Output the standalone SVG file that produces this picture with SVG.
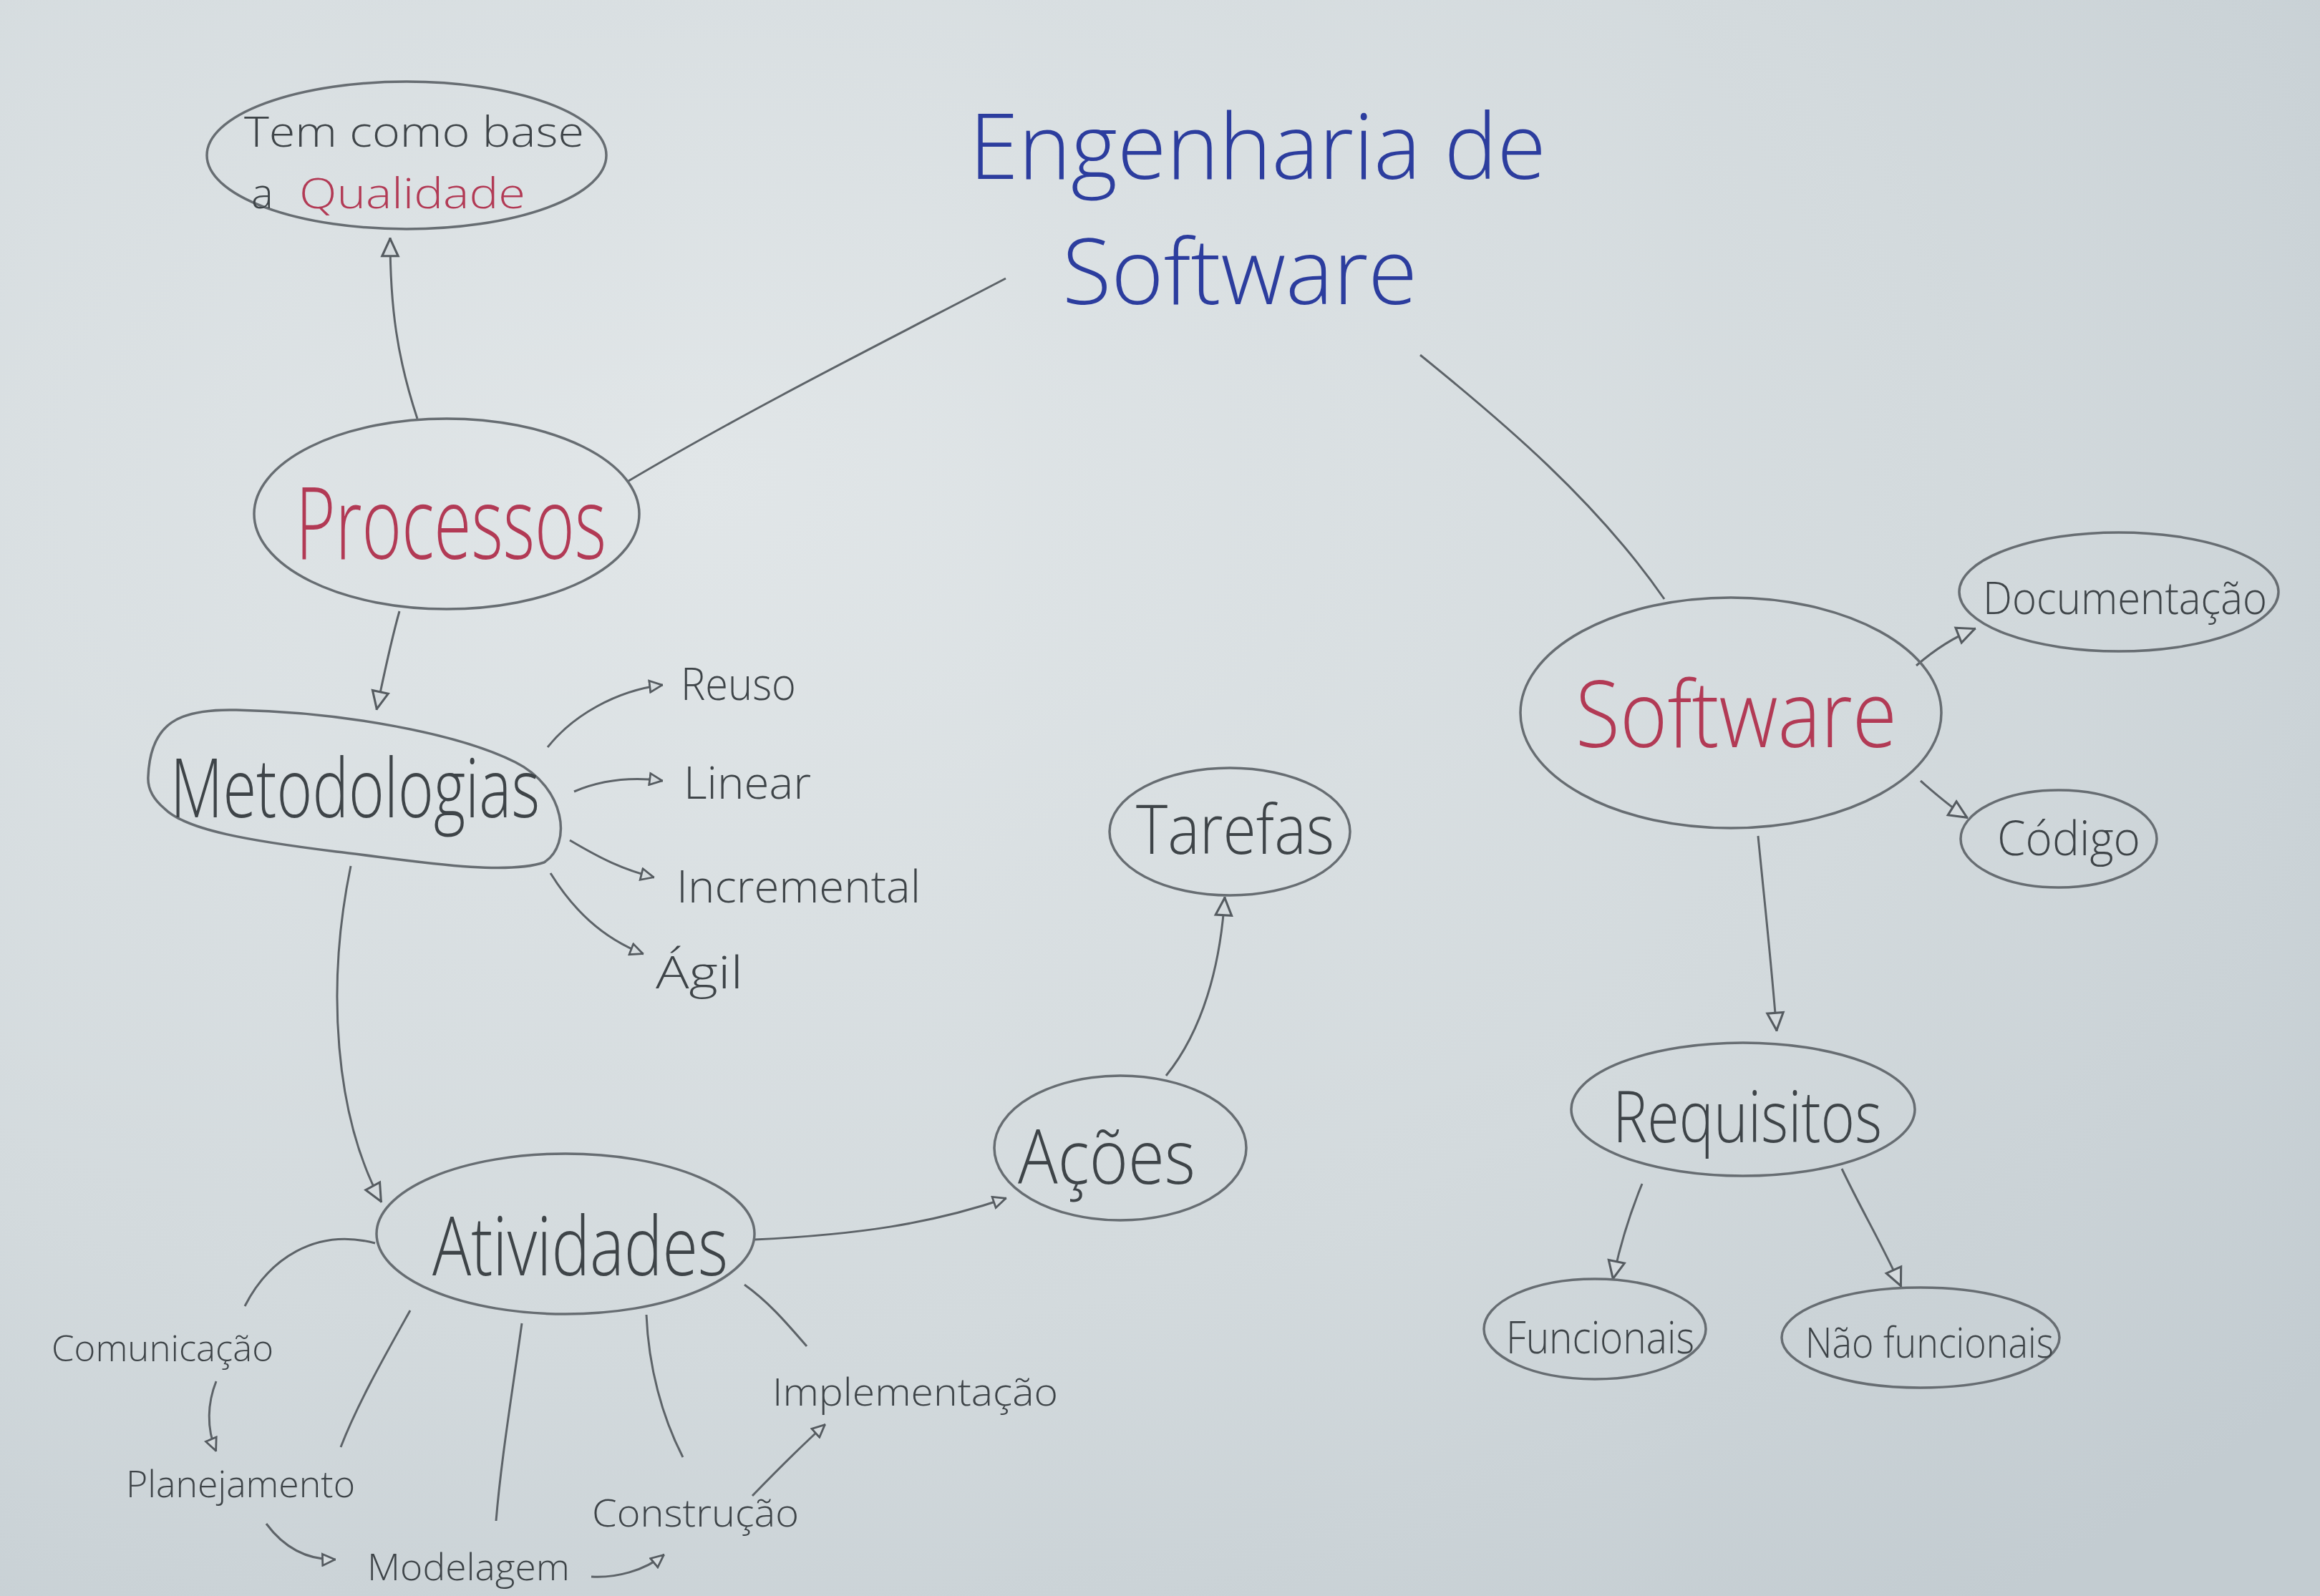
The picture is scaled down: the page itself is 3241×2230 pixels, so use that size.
<svg xmlns="http://www.w3.org/2000/svg" width="3241" height="2230" viewBox="0 0 3241 2230">
<defs>
<radialGradient id="bg" cx="0.3" cy="0.3" r="0.9">
<stop offset="0" stop-color="#e1e6e8"/>
<stop offset="0.6" stop-color="#d3dadd"/>
<stop offset="1" stop-color="#c3ccd1"/>
</radialGradient>
<marker id="ah" viewBox="0 0 10 10" refX="10" refY="5" markerWidth="28" markerHeight="28" markerUnits="userSpaceOnUse" orient="auto">
<path d="M0.8,1 L9.5,5 L0.8,9 z" fill="#d6dcdf" stroke="#555b60" stroke-width="1.1"/>
</marker>
<marker id="as" viewBox="0 0 10 10" refX="10" refY="5" markerWidth="20" markerHeight="20" markerUnits="userSpaceOnUse" orient="auto">
<path d="M0.8,1 L9.5,5 L0.8,9 z" fill="#d6dcdf" stroke="#555b60" stroke-width="1.4"/>
</marker>
<style>
.node{fill:none;stroke:#676d72;stroke-width:3.5}
.edge{fill:none;stroke:#5d6368;stroke-width:3}
.arr{marker-end:url(#ah)}
.arrs{marker-end:url(#as)}
text{font-family:"Open Sans","Liberation Sans",sans-serif;font-weight:300;fill:#3e4448}
.red{fill:#b23a55}
.blue{fill:#2c3d9e}
</style>
</defs>
<rect x="0" y="0" width="3241" height="2230" fill="url(#bg)"/>

<g id="connectors">
<path class="edge" d="M878,672 C1050,570 1250,470 1405,389"/>
<path class="edge" d="M1984,496 C2100,590 2230,700 2325,837"/>
<path class="edge arr" d="M583,585 C555,500 545,430 545,332"/>
<path class="edge arr" d="M558,854 C545,900 535,950 526,992"/>
<path class="edge arrs" d="M765,1044 C800,1000 860,965 926,957"/>
<path class="edge arrs" d="M802,1106 C840,1090 880,1085 926,1091"/>
<path class="edge arrs" d="M796,1174 C840,1200 870,1215 914,1226"/>
<path class="edge arrs" d="M769,1220 C800,1270 840,1310 899,1333"/>
<path class="edge arr" d="M490,1210 C455,1380 468,1560 533,1680"/>
<path class="edge arrs" d="M1054,1732 C1200,1725 1300,1710 1406,1674"/>
<path class="edge arr" d="M1629,1503 C1680,1440 1705,1350 1711,1253"/>
<path class="edge arr" d="M2677,930 C2700,910 2730,890 2760,878"/>
<path class="edge arr" d="M2683,1091 C2705,1110 2725,1128 2749,1143"/>
<path class="edge arr" d="M2456,1168 C2465,1260 2475,1350 2482,1441"/>
<path class="edge arr" d="M2294,1654 C2275,1700 2262,1745 2253,1788"/>
<path class="edge arr" d="M2573,1633 C2600,1690 2630,1740 2656,1798"/>
<path class="edge" d="M524,1737 C440,1715 375,1760 342,1825"/>
<path class="edge" d="M573,1831 C540,1890 500,1960 476,2022"/>
<path class="edge" d="M729,1849 C715,1950 700,2040 693,2125"/>
<path class="edge" d="M903,1837 C906,1910 925,1980 954,2036"/>
<path class="edge" d="M1040,1795 C1075,1820 1100,1850 1127,1881"/>
<path class="edge arrs" d="M302,1930 C290,1960 288,1995 302,2028"/>
<path class="edge arrs" d="M372,2129 C395,2160 425,2180 469,2179"/>
<path class="edge arrs" d="M826,2203 C860,2205 900,2195 928,2172"/>
<path class="edge arrs" d="M1051,2090 C1080,2060 1120,2020 1153,1990"/>
</g>

<g id="title">
<text class="blue" x="1354" y="250" font-size="128" textLength="806" lengthAdjust="spacingAndGlyphs">Engenharia de</text>
<text class="blue" x="1484" y="425" font-size="128" textLength="496" lengthAdjust="spacingAndGlyphs">Software</text>
</g>

<g id="qualidade">
<ellipse class="node" cx="568" cy="217" rx="279" ry="103"/>
<text x="341" y="205" font-size="58" textLength="475" lengthAdjust="spacingAndGlyphs">Tem  como  base</text>
<text x="351" y="291" font-size="58">a</text>
<text class="red" x="418" y="291" font-size="58" textLength="316" lengthAdjust="spacingAndGlyphs">Qualidade</text>
</g>

<g id="processos">
<ellipse class="node" cx="624" cy="718" rx="269" ry="133"/>
<text class="red" x="413" y="781" font-size="140" textLength="434" lengthAdjust="spacingAndGlyphs">Processos</text>
</g>

<g id="metodologias">
<path class="node" d="M207,1085 C210,1010 250,990 330,992 C480,995 640,1025 720,1065 C790,1100 800,1180 760,1205 C700,1225 560,1200 470,1190 C350,1175 260,1160 230,1130 C212,1115 206,1100 207,1085 Z"/>
<text x="238" y="1142" font-size="115" textLength="516" lengthAdjust="spacingAndGlyphs">Metodologias</text>
</g>

<g id="reuso"><text x="951" y="978" font-size="62" textLength="161" lengthAdjust="spacingAndGlyphs">Reuso</text></g>
<g id="linear"><text x="955" y="1116" font-size="62" textLength="178" lengthAdjust="spacingAndGlyphs">Linear</text></g>
<g id="incremental"><text x="945" y="1261" font-size="62" textLength="341" lengthAdjust="spacingAndGlyphs">Incremental</text></g>
<g id="agil"><text x="916" y="1381" font-size="62" textLength="122" lengthAdjust="spacingAndGlyphs">Ágil</text></g>

<g id="atividades">
<ellipse class="node" cx="790" cy="1724" rx="264" ry="112"/>
<text x="604" y="1782" font-size="115" textLength="413" lengthAdjust="spacingAndGlyphs">Atividades</text>
</g>

<g id="acoes">
<ellipse class="node" cx="1565" cy="1604" rx="176" ry="101"/>
<text x="1422" y="1654" font-size="105" textLength="248" lengthAdjust="spacingAndGlyphs">Ações</text>
</g>

<g id="tarefas">
<ellipse class="node" cx="1718" cy="1162" rx="168" ry="89"/>
<text x="1587" y="1193" font-size="95" textLength="277" lengthAdjust="spacingAndGlyphs">Tarefas</text>
</g>

<g id="software">
<ellipse class="node" cx="2418" cy="996" rx="294" ry="161"/>
<text class="red" x="2201" y="1044" font-size="130" textLength="449" lengthAdjust="spacingAndGlyphs">Software</text>
</g>

<g id="documentacao">
<ellipse class="node" cx="2960" cy="827" rx="223" ry="83"/>
<text x="2770" y="858" font-size="62" textLength="397" lengthAdjust="spacingAndGlyphs">Documentação</text>
</g>

<g id="codigo">
<ellipse class="node" cx="2876" cy="1172" rx="137" ry="68"/>
<text x="2790" y="1195" font-size="66" textLength="200" lengthAdjust="spacingAndGlyphs">Código</text>
</g>

<g id="requisitos">
<ellipse class="node" cx="2435" cy="1550" rx="240" ry="93"/>
<text x="2253" y="1596" font-size="100" textLength="376" lengthAdjust="spacingAndGlyphs">Requisitos</text>
</g>

<g id="funcionais">
<ellipse class="node" cx="2228" cy="1857" rx="155" ry="70"/>
<text x="2104" y="1891" font-size="62" textLength="263" lengthAdjust="spacingAndGlyphs">Funcionais</text>
</g>

<g id="naofuncionais">
<ellipse class="node" cx="2683" cy="1869" rx="194" ry="70"/>
<text x="2522" y="1897" font-size="58" textLength="347" lengthAdjust="spacingAndGlyphs">Não funcionais</text>
</g>

<g id="comunicacao"><text x="72" y="1902" font-size="50" textLength="310" lengthAdjust="spacingAndGlyphs">Comunicação</text></g>
<g id="planejamento"><text x="176" y="2092" font-size="52" textLength="320" lengthAdjust="spacingAndGlyphs">Planejamento</text></g>
<g id="modelagem"><text x="513" y="2208" font-size="52" textLength="283" lengthAdjust="spacingAndGlyphs">Modelagem</text></g>
<g id="construcao"><text x="827" y="2133" font-size="54" textLength="289" lengthAdjust="spacingAndGlyphs">Construção</text></g>
<g id="implementacao"><text x="1079" y="1964" font-size="54" textLength="399" lengthAdjust="spacingAndGlyphs">Implementação</text></g>
</svg>
